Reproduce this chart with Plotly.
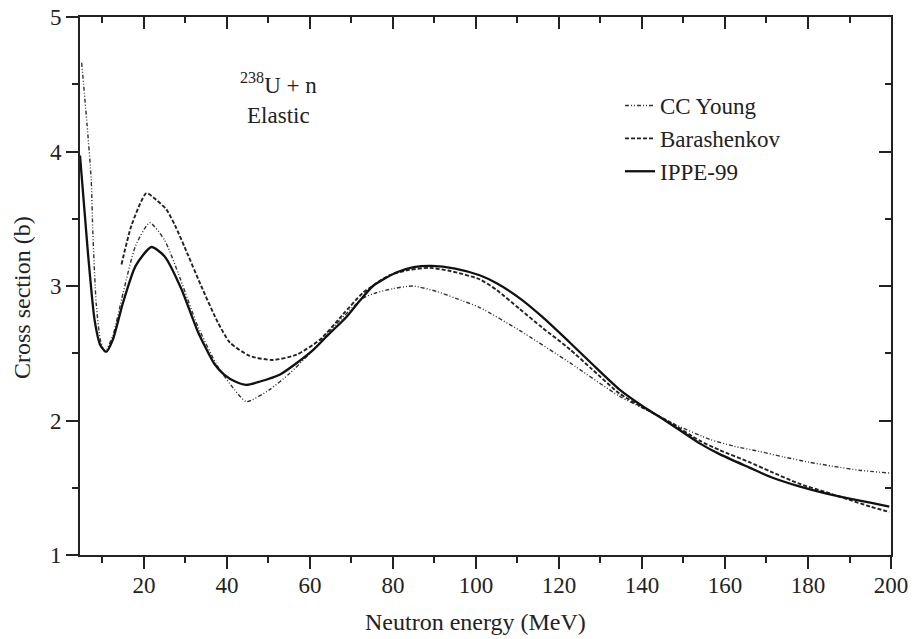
import plotly.graph_objects as go

# ---- data ----
ippe_x = [4.6, 6.5, 8.1, 9.5, 10.9, 12.5, 15, 18, 21.8, 25, 29, 33, 37, 39.4, 42, 44.7, 48, 52.7, 56.5, 60.8, 64.5, 68.8, 72, 75.2, 80.8, 85, 89.3, 95, 100.9, 105, 110.5, 116, 122.6, 128, 134.6, 140, 146.6, 153.9, 158.7, 165.9, 171, 177.9, 184, 190, 195, 199.6]
ippe_y = [3.97, 3.25, 2.75, 2.56, 2.51, 2.6, 2.88, 3.15, 3.29, 3.22, 2.98, 2.66, 2.42, 2.34, 2.29, 2.265, 2.29, 2.34, 2.42, 2.525, 2.64, 2.77, 2.89, 3.0, 3.1, 3.14, 3.15, 3.13, 3.08, 3.02, 2.91, 2.77, 2.58, 2.42, 2.23, 2.11, 1.98, 1.83, 1.75, 1.65, 1.58, 1.51, 1.46, 1.42, 1.39, 1.36]

bar_x = [14.6, 17, 20.6, 23, 25.4, 27.5, 29.8, 33.8, 37.8, 40.7, 45.5, 51.1, 56.8, 62.4, 68, 72.8, 79.2, 84, 88.9, 94, 100.9, 105, 110.5, 116, 122.6, 128, 134.6, 140, 146.6, 153.9, 158.7, 165.9, 171, 177.9, 184, 190, 195, 199.6]
bar_y = [3.16, 3.45, 3.69, 3.64, 3.57, 3.45, 3.29, 3.0, 2.73, 2.58, 2.48, 2.45, 2.49, 2.6, 2.79, 2.95, 3.08, 3.12, 3.135, 3.11, 3.05, 2.97, 2.83, 2.69, 2.53, 2.38, 2.2, 2.1, 1.99, 1.85, 1.78, 1.69, 1.62, 1.53, 1.47, 1.41, 1.36, 1.32]

ccy_x = [5.0, 6.3, 7.3, 7.7, 8.5, 9.5, 10.6, 12.5, 15, 18, 21.4, 25, 28.2, 33, 37.8, 41.8, 44.7, 50.3, 55.1, 60, 66.4, 72.8, 76, 80, 84.8, 90.5, 95, 100.9, 110.5, 122.6, 134.6, 141, 148, 156.3, 162, 168.3, 174, 180.3, 186, 192.4, 199.6]
ccy_y = [4.66, 4.2, 3.79, 3.39, 2.87, 2.6, 2.51, 2.63, 2.95, 3.3, 3.47, 3.34, 3.1, 2.7, 2.4, 2.23, 2.14, 2.23, 2.35, 2.5, 2.72, 2.91, 2.95, 2.98, 3.0, 2.96, 2.91, 2.84, 2.67, 2.43, 2.18, 2.08, 1.97, 1.86, 1.81, 1.77, 1.73, 1.69, 1.66, 1.63, 1.61]

x_ticks = [20, 40, 60, 80, 100, 120, 140, 160, 180, 200]
y_ticks = [1, 2, 3, 4, 5]
x_range = [4.6, 200]
y_range = [1, 5]

FONT = "Liberation Serif"
INK = "#222222"
W, H = 915, 639
ML, MR, MT, MB = 80, 24, 17, 84


def px_x(p):
    return (p - ML) / (W - ML - MR)


def px_y(p):
    return 1 - (p - MT) / (H - MT - MB)


fig = go.Figure()
fig.add_trace(go.Scatter(x=ccy_x, y=ccy_y, mode="lines", name="CC Young",
                         line=dict(color="#333333", width=1.4, dash="4px,2px,1px,2px,1px,2px", shape="spline", smoothing=0.6)))
fig.add_trace(go.Scatter(x=bar_x, y=bar_y, mode="lines", name="Barashenkov",
                         line=dict(color="#222222", width=1.9, dash="4px,2px", shape="spline", smoothing=0.6)))
fig.add_trace(go.Scatter(x=ippe_x, y=ippe_y, mode="lines", name="IPPE-99",
                         line=dict(color="#111111", width=2.3, shape="spline", smoothing=0.6)))
# invisible trace to activate mirrored (inward-tick) axes
fig.add_trace(go.Scatter(x=ippe_x, y=ippe_y, mode="lines", xaxis="x2", yaxis="y2",
                         line=dict(width=0), opacity=0, showlegend=False, hoverinfo="skip"))

axis_common = dict(showgrid=False, zeroline=False, automargin=False,
                   tickfont=dict(family=FONT, size=23, color=INK),
                   tickcolor=INK, tickwidth=1.5)

fig.update_layout(
    width=W, height=H,
    margin=dict(l=ML, r=MR, t=MT, b=MB),
    paper_bgcolor="white", plot_bgcolor="white",
    font=dict(family=FONT, size=23, color=INK),
    xaxis=dict(range=x_range, tickvals=x_ticks, ticks="outside", ticklen=12,
               showline=True, linecolor=INK, linewidth=1.8, mirror=True, ticklabelstandoff=-4,
               minor=dict(dtick=10, tick0=0, ticks="outside", ticklen=6, tickcolor=INK, tickwidth=1.5),
               **axis_common),
    yaxis=dict(range=y_range, tickvals=y_ticks, ticks="outside", ticklen=12,
               showline=True, linecolor=INK, linewidth=1.8, mirror=True,
               minor=dict(dtick=0.5, tick0=0, ticks="outside", ticklen=6, tickcolor=INK, tickwidth=1.5),
               **axis_common),
    xaxis2=dict(range=x_range, tickvals=x_ticks, overlaying="x", side="top", anchor="y",
                ticks="inside", ticklen=12, showticklabels=False, showline=False,
                minor=dict(dtick=10, tick0=0, ticks="inside", ticklen=6, tickcolor=INK, tickwidth=1.5),
                **axis_common),
    yaxis2=dict(range=y_range, tickvals=y_ticks, overlaying="y", side="right", anchor="x",
                ticks="inside", ticklen=12, showticklabels=False, showline=False,
                minor=dict(dtick=0.5, tick0=0, ticks="inside", ticklen=6, tickcolor=INK, tickwidth=1.5),
                **axis_common),
    legend=dict(x=px_x(620), y=px_y(84), xanchor="left", yanchor="top", bgcolor="rgba(0,0,0,0)",
                font=dict(family=FONT, size=23, color=INK), tracegroupgap=0),
    showlegend=True,
)

# axis titles
fig.add_annotation(x=px_x(475), y=px_y(622), xref="paper", yref="paper", showarrow=False,
                   xanchor="center", yanchor="middle", text="Neutron energy (MeV)",
                   font=dict(family=FONT, size=24, color=INK))
fig.add_annotation(x=px_x(22), y=px_y(298), xref="paper", yref="paper", showarrow=False,
                   xanchor="center", yanchor="middle", textangle=-90, text="Cross section (b)",
                   font=dict(family=FONT, size=24, color=INK))
# panel label
fig.add_annotation(x=px_x(278), y=px_y(99), xref="paper", yref="paper", showarrow=False,
                   xanchor="center", yanchor="middle", align="center",
                   text="<sup>238</sup>U + n<br>Elastic",
                   font=dict(family=FONT, size=23, color=INK))

fig.write_html("out.html", config={"displayModeBar": False},
               post_script="document.body.style.margin='0';document.body.style.padding='0';")
